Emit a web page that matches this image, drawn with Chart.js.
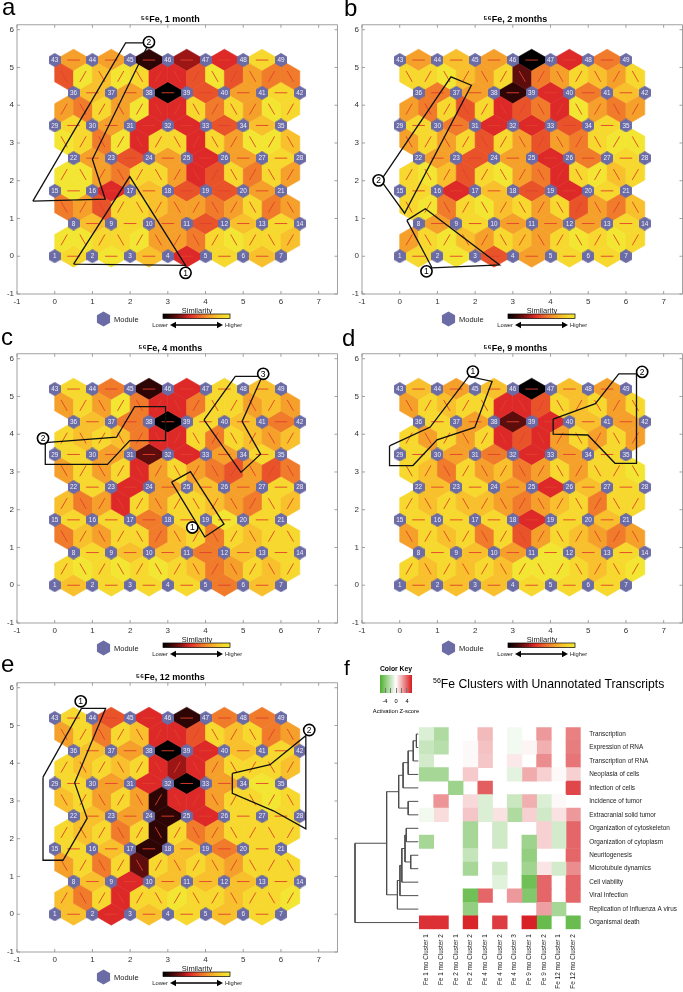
<!DOCTYPE html>
<html>
<head>
<meta charset="utf-8">
<title>56Fe SOM maps and IPA clusters</title>
<script src="https://cdn.jsdelivr.net/npm/chart.js@4.4.1/dist/chart.umd.min.js"></script>
<style>
  html, body { margin: 0; padding: 0; background: #fff; }
  #page { position: relative; width: 683px; height: 992px; overflow: hidden;
          font-family: "Liberation Sans", Arial, Helvetica, sans-serif; color: #000; }
  #page canvas { position: absolute; }
  .tag { position: absolute; font-size: 24px; line-height: 24px; }
  .txt { position: absolute; white-space: nowrap; }
</style>
</head>
<body>
<div id="page">
  <canvas id="somA" width="340" height="335" style="left:0;top:0"></canvas>
  <canvas id="somB" width="343" height="335" style="left:340px;top:0"></canvas>
  <canvas id="somC" width="340" height="335" style="left:0;top:329px"></canvas>
  <canvas id="somD" width="343" height="335" style="left:340px;top:329px"></canvas>
  <canvas id="somE" width="340" height="335" style="left:0;top:658px"></canvas>
  <canvas id="heat" width="343" height="302" style="left:340px;top:690px"></canvas>
  <canvas id="dendro" width="343" height="302" style="left:340px;top:690px"></canvas>

  <div class="tag" style="left:2px;top:-5px">a</div>
  <div class="tag" style="left:344px;top:-4px">b</div>
  <div class="tag" style="left:1px;top:325px">c</div>
  <div class="tag" style="left:342px;top:326px">d</div>
  <div class="tag" style="left:1px;top:652px">e</div>
  <div class="tag" style="left:344px;top:657px;font-size:21px;line-height:21px">f</div>

  <div class="txt" style="left:376px;top:665px;width:40px;text-align:center;font-size:6.8px;line-height:8px;font-weight:bold">Color Key</div>
  <div id="key" style="position:absolute;left:380px;top:675px;width:32px;height:18px"></div>
  <div class="txt" style="left:379px;top:698px;width:12px;text-align:center;font-size:5.7px;line-height:7px">-4</div>
  <div class="txt" style="left:390px;top:698px;width:12px;text-align:center;font-size:5.7px;line-height:7px">0</div>
  <div class="txt" style="left:401px;top:698px;width:12px;text-align:center;font-size:5.7px;line-height:7px">4</div>
  <div class="txt" style="left:366px;top:708px;width:60px;text-align:center;font-size:5.8px;line-height:7px">Activation Z-score</div>
  <div class="txt" style="left:433px;top:674px;font-size:12.2px;line-height:14px"><sup style="font-size:7px;vertical-align:5px">56</sup>Fe Clusters with Unannotated Transcripts</div>
</div>

<script>
// ── DATA ────────────────────────────────────────────────────────────

const xTicks = [-1, 0, 1, 2, 3, 4, 5, 6, 7];
const yTicks = [-1, 0, 1, 2, 3, 4, 5, 6];

// neighbour similarity, 0 = lowest (black) … 10 = highest (yellow)
// *_h : horizontal links in each module row (row 1-7 first)
// *_d : diagonal links between two rows, left to right
const a_h = [
  [9, 10, 8, 4, 9, 8],
  [8, 9, 7, 5, 8, 9],
  [10, 4, 8, 5, 5, 7],
  [7, 5, 7, 4, 7, 9],
  [9, 7, 4, 4, 5, 8],
  [8, 7, 0, 5, 7, 9],
  [7, 7, 1, 3, 4, 9]
];
const a_d = [
  [10, 10, 9, 9, 10, 7, 7, 6, 9, 10, 9, 9, 8],
  [6, 7, 5, 9, 9, 8, 7, 7, 6, 7, 9, 6, 7],
  [10, 10, 7, 6, 9, 9, 7, 4, 5, 9, 6, 9, 7],
  [10, 9, 6, 10, 4, 9, 9, 4, 9, 7, 10, 10, 8],
  [7, 6, 9, 7, 10, 4, 4, 9, 6, 9, 7, 10, 9],
  [5, 10, 8, 10, 9, 4, 4, 5, 10, 5, 7, 6, 6]
];
const b_h = [
  [9, 10, 5, 7, 9, 9],
  [7, 9, 7, 7, 7, 9],
  [9, 4, 8, 5, 4, 9],
  [7, 5, 7, 4, 6, 9],
  [9, 6, 4, 4, 5, 9],
  [6, 7, 1, 4, 6, 8],
  [7, 8, 7, 0, 4, 6]
];
const b_d = [
  [7, 9, 10, 8, 7, 9, 8, 7, 9, 10, 9, 10, 9],
  [9, 10, 6, 9, 10, 8, 9, 7, 9, 5, 7, 6, 8],
  [9, 10, 8, 5, 9, 10, 7, 6, 4, 9, 10, 8, 9],
  [7, 9, 7, 9, 5, 9, 7, 5, 7, 6, 9, 10, 10],
  [7, 6, 9, 5, 9, 4, 5, 6, 4, 10, 7, 6, 7],
  [9, 9, 10, 8, 7, 9, 2, 6, 7, 9, 8, 7, 9]
];
const c_h = [
  [8, 9, 9, 9, 6, 8],
  [9, 8, 8, 6, 8, 9],
  [9, 9, 6, 9, 10, 9],
  [9, 4, 7, 8, 7, 9],
  [9, 7, 2, 4, 7, 9],
  [8, 6, 0, 9, 8, 6],
  [9, 6, 1, 4, 9, 8]
];
const c_d = [
  [9, 10, 9, 10, 9, 10, 9, 8, 6, 7, 9, 8, 9],
  [6, 8, 7, 9, 9, 6, 8, 9, 6, 9, 8, 9, 9],
  [8, 6, 7, 4, 9, 7, 9, 9, 8, 7, 6, 9, 8],
  [7, 9, 7, 9, 4, 7, 9, 7, 6, 5, 7, 5, 6],
  [9, 8, 9, 8, 6, 4, 4, 9, 6, 9, 8, 7, 8],
  [7, 9, 7, 10, 6, 4, 4, 6, 9, 9, 7, 8, 7]
];
const d_h = [
  [8, 8, 8, 9, 9, 9],
  [9, 8, 7, 10, 8, 9],
  [9, 9, 9, 4, 9, 8],
  [8, 9, 7, 4, 8, 9],
  [9, 7, 6, 4, 7, 9],
  [9, 7, 2, 4, 8, 7],
  [8, 7, 8, 0, 8, 7]
];
const d_d = [
  [9, 8, 9, 8, 9, 8, 10, 10, 10, 9, 8, 9, 10],
  [7, 9, 8, 9, 6, 9, 5, 7, 9, 8, 7, 6, 7],
  [9, 8, 9, 8, 8, 7, 6, 7, 8, 9, 6, 9, 9],
  [9, 8, 6, 9, 7, 8, 6, 7, 9, 7, 9, 9, 10],
  [9, 7, 9, 7, 9, 4, 5, 4, 7, 9, 7, 9, 7],
  [7, 9, 8, 9, 9, 4, 4, 5, 9, 8, 9, 7, 9]
];
const e_h = [
  [8, 4, 8, 9, 8, 9],
  [8, 4, 8, 8, 8, 9],
  [9, 8, 1, 8, 6, 9],
  [8, 7, 1, 4, 9, 9],
  [9, 7, 4, 0, 7, 10],
  [8, 7, 0, 4, 8, 9],
  [9, 5, 4, 1, 6, 6]
];
const e_d = [
  [8, 6, 9, 4, 9, 9, 10, 9, 9, 8, 9, 9, 10],
  [7, 9, 6, 9, 2, 9, 8, 9, 8, 7, 9, 9, 9],
  [9, 8, 9, 6, 9, 1, 9, 6, 7, 9, 9, 9, 9],
  [8, 9, 7, 9, 7, 1, 4, 4, 7, 9, 9, 10, 9],
  [9, 8, 9, 8, 9, 4, 3, 4, 7, 9, 9, 9, 8],
  [7, 9, 6, 9, 8, 4, 4, 5, 9, 8, 9, 6, 7]
];

// cluster outlines and their numbered markers (map coordinates)
const a_loops = [
  [[0.50, -0.21], [1.99, 2.11], [3.47, -0.24]],
  [[-0.58, 1.46], [1.88, 5.65], [2.50, 5.65], [1.00, 2.57], [1.34, 1.51]]
];
const a_tags = [[3.47, -0.44, '1'], [2.50, 5.67, '2']];
const b_loops = [
  [[0.19, 0.95], [0.68, 1.26], [2.65, -0.23], [0.86, -0.31]],
  [[-0.50, 2.01], [1.36, 4.75], [1.90, 4.53], [0.13, 1.14]]
];
const b_tags = [[0.71, -0.40, '1'], [-0.56, 2.01, '2']];
const c_loops = [
  [[3.10, 2.73], [3.60, 3.01], [4.49, 1.62], [3.98, 1.28]],
  [[-0.25, 3.78], [1.64, 3.92], [2.12, 4.73], [2.94, 4.73], [2.94, 3.83], [1.99, 3.83], [1.40, 3.20], [-0.25, 3.20]],
  [[3.96, 4.38], [4.79, 5.53], [5.50, 5.53], [4.97, 4.34], [5.46, 3.47], [4.94, 2.99]]
];
const c_tags = [[3.65, 1.53, '1'], [-0.31, 3.89, '2'], [5.53, 5.60, '3']];
const d_loops = [
  [[-0.27, 3.69], [0.81, 4.19], [1.83, 5.53], [2.45, 5.40], [1.99, 4.18], [0.99, 3.85], [0.35, 3.17], [-0.27, 3.17]],
  [[4.07, 4.40], [5.19, 4.81], [5.81, 5.60], [6.28, 5.60], [6.28, 3.23], [5.71, 3.23], [4.99, 3.98], [4.07, 4.00]]
];
const d_tags = [[1.94, 5.66, '1'], [6.43, 5.65, '2']];
const e_loops = [
  [[-0.31, 3.63], [0.71, 5.45], [1.35, 5.45], [0.53, 3.48], [0.86, 2.54], [0.22, 1.43], [-0.31, 1.43]],
  [[4.71, 3.73], [5.71, 3.96], [6.66, 4.73], [6.66, 2.26], [5.80, 2.74], [4.71, 3.20]]
];
const e_tags = [[0.69, 5.64, '1'], [6.75, 4.88, '2']];

// panel f
const rowNames = [
  'Transcription', 'Expression of RNA', 'Transcription of RNA', 'Neoplasia of cells',
  'Infection of cells', 'Incidence of tumor', 'Extracranial solid tumor',
  'Organization of cytoskeleton', 'Organization of cytoplasm', 'Neuritogenesis',
  'Microtubule dynamics', 'Cell viability', 'Viral Infection',
  'Replication of Influenza A virus', 'Organismal death'
];
const colNames = [
  'Fe 1 mo Cluster 1', 'Fe 1 mo Cluster 2', 'Fe 2 mo Cluster 1', 'Fe 2 mo Cluster 2',
  'Fe 4 mo Cluster 1', 'Fe 4 mo Cluster 2', 'Fe 4 mo Cluster 3', 'Fe 9 mo Cluster 1',
  'Fe 9 mo Cluster 2', 'Fe 12 mo Cluster 1', 'Fe 12 mo Cluster 2'
];
const zScores = [
  [-1.2, -2.7, null, null, 1.8, null, -0.4, null, 2.7, null, 3.3],
  [-1.9, -2.4, null, 0.15, 1.6, null, -0.4, 0.3, 2.1, null, 3.4],
  [-1.5, null, null, 0.15, 1.5, null, 0.6, null, 3.0, null, 3.6],
  [-3.0, -3.0, null, 1.4, null, null, -0.9, 2.2, 1.2, 0.15, 1.2],
  [null, null, -3.3, null, 4.2, null, null, null, null, null, 4.8],
  [null, 2.8, null, 1.0, -1.2, null, -1.8, 2.1, -1.2, 0.15, null],
  [-0.45, 0.9, null, 1.5, -1.2, 0.75, -2.7, 1.2, -1.6, 0.75, 2.7],
  [null, null, null, -3.0, null, -1.6, null, null, 1.2, -1.5, 4.0],
  [-3.0, null, null, -3.0, null, -1.6, null, -3.3, 1.2, -1.5, 4.0],
  [null, null, null, -2.0, null, null, null, -3.6, null, null, 4.0],
  [null, null, null, -3.0, null, -1.6, null, -3.2, 0.7, -1.5, 3.0],
  [null, null, null, null, null, -1.0, null, -4.8, 4.0, null, 4.0],
  [null, null, null, -4.8, 4.0, null, 2.7, -4.2, 4.0, null, 4.0],
  [null, null, null, -3.6, null, null, null, null, 2.5, -3.0, null],
  [5.4, 5.4, null, 5.7, null, 5.1, null, 5.8, -5.1, null, -5.0]
];
// row dendrogram: [node, node, height]; new nodes numbered from 15
const linkage = [
  [0, 1, 0.3], [15, 2, 0.8], [16, 3, 1.6], [17, 4, 2.4], [5, 6, 1.6], [18, 19, 3.1],
  [7, 8, 1.9], [9, 10, 1.2], [21, 22, 2.1], [23, 11, 2.6], [24, 12, 2.9], [25, 13, 3.3],
  [20, 26, 5.0], [27, 14, 10]
];

// ── STYLE ───────────────────────────────────────────────────────────

const FONT = '"Liberation Sans", Arial, Helvetica, sans-serif';
Chart.defaults.font.family = FONT;
const ROW = Math.sqrt(3) / 2;
const HALF_W = 0.5 / Math.sqrt(3);
const SIM_COLORS = ['#000000', '#2e0505', '#5e0d0d', '#9c1616', '#dd2a28', '#e9532a',
                    '#f07b2b', '#f5a02b', '#f8c02c', '#f6d82e', '#f3e632'];
const MODULE_COLOR = '#6b6ba6';
const Z_MAX = 6;
const Z_LOW = [77, 175, 45], Z_HIGH = [215, 25, 30];
const NO_GRID = { display: false, drawTicks: false };

function hexPath(ctx, cx, cy, r) {
  ctx.beginPath();
  for (let i = 0; i < 6; i++) {
    const a = Math.PI / 180 * (60 * i - 90);
    const px = cx + r * Math.cos(a), py = cy + r * Math.sin(a);
    i ? ctx.lineTo(px, py) : ctx.moveTo(px, py);
  }
  ctx.closePath();
}

function hexImage(r) {
  const c = document.createElement('canvas');
  c.width = 12; c.height = 14;
  const g = c.getContext('2d');
  hexPath(g, 6, 7, r);
  g.fillStyle = MODULE_COLOR;
  g.fill();
  return c;
}
const MODULE_IMG = hexImage(6.9);

// ── SOM MAPS ────────────────────────────────────────────────────────

// midpoint, unit direction and value of every link between neighbouring modules
function edgeList(h, d) {
  const out = [];
  h.forEach((row, r) => row.forEach((v, j) => {
    out.push([(r % 2 ? 0.5 : 0) + j + 0.5, r * ROW, 1, 0, v]);
  }));
  d.forEach((row, g) => row.forEach((v, k) => {
    const rising = (g % 2) === (k % 2);
    out.push([0.25 + 0.5 * k, (g + 0.5) * ROW, rising ? 0.5 : -0.5, ROW, v]);
  }));
  return out;
}

function drawLegend(ctx, a) {
  const L = a.left, B = a.bottom;
  hexPath(ctx, L + 86.5, B + 25, 7.6);
  ctx.fillStyle = MODULE_COLOR;
  ctx.fill();

  ctx.fillStyle = '#222';
  ctx.font = `7.5px ${FONT}`;
  ctx.textBaseline = 'middle';
  ctx.textAlign = 'left';
  ctx.fillText('Module', L + 97, B + 25.5);
  ctx.textAlign = 'center';
  ctx.fillText('Similarity', L + 180, B + 16.5);

  const grad = ctx.createLinearGradient(L + 146, 0, L + 213, 0);
  SIM_COLORS.forEach((c, i) => grad.addColorStop(i / (SIM_COLORS.length - 1), c));
  ctx.fillStyle = grad;
  ctx.fillRect(L + 146, B + 20, 67, 4.5);
  ctx.strokeStyle = '#000';
  ctx.lineWidth = 0.7;
  ctx.strokeRect(L + 146, B + 20, 67, 4.5);

  // double arrow
  const y = B + 31, x1 = L + 153, x2 = L + 206;
  ctx.lineWidth = 1.6;
  ctx.beginPath(); ctx.moveTo(x1 + 4, y); ctx.lineTo(x2 - 4, y); ctx.stroke();
  ctx.fillStyle = '#000';
  ctx.beginPath(); ctx.moveTo(x1, y); ctx.lineTo(x1 + 6, y - 3.2); ctx.lineTo(x1 + 6, y + 3.2); ctx.fill();
  ctx.beginPath(); ctx.moveTo(x2, y); ctx.lineTo(x2 - 6, y - 3.2); ctx.lineTo(x2 - 6, y + 3.2); ctx.fill();

  ctx.font = `5.8px ${FONT}`;
  ctx.fillStyle = '#222';
  ctx.textAlign = 'right';
  ctx.fillText('Lower', L + 151, y + 0.5);
  ctx.textAlign = 'left';
  ctx.fillText('Higher', L + 208, y + 0.5);
}

function somPlugin(h, d) {
  const edges = edgeList(h, d);
  return {
    id: 'somMap',
    beforeDatasetsDraw(chart) {
      const { ctx, scales: { x, y } } = chart;
      const px = (a, b) => [x.getPixelForValue(a), y.getPixelForValue(b)];
      ctx.save();
      edges.forEach(([mx, my, dx, dy, v]) => {
        const pts = [
          px(mx + dx / 2, my + dy / 2), px(mx - dy * HALF_W, my + dx * HALF_W),
          px(mx - dx / 2, my - dy / 2), px(mx + dy * HALF_W, my - dx * HALF_W)
        ];
        ctx.beginPath();
        pts.forEach(([u, w], i) => (i ? ctx.lineTo(u, w) : ctx.moveTo(u, w)));
        ctx.closePath();
        ctx.fillStyle = SIM_COLORS[v];
        ctx.strokeStyle = SIM_COLORS[v];
        ctx.lineWidth = 0.6;
        ctx.fill();
        ctx.stroke();
      });
      ctx.strokeStyle = '#e2402c';
      ctx.lineWidth = 0.9;
      ctx.beginPath();
      edges.forEach(([mx, my, dx, dy]) => {
        const p = px(mx - dx / 6, my - dy / 6), q = px(mx + dx / 6, my + dy / 6);
        ctx.moveTo(p[0], p[1]);
        ctx.lineTo(q[0], q[1]);
      });
      ctx.stroke();
      ctx.restore();
    },
    afterDatasetDraw(chart, args) {
      if (args.index !== 0) return;
      const { ctx } = chart;
      const pts = chart.data.datasets[0].data;
      ctx.save();
      ctx.fillStyle = '#eeeef6';
      ctx.font = `6.4px ${FONT}`;
      ctx.textAlign = 'center';
      ctx.textBaseline = 'middle';
      args.meta.data.forEach((el, i) => ctx.fillText(String(pts[i].n), el.x, el.y + 0.4));
      ctx.restore();
    },
    afterDatasetsDraw(chart) {
      const { ctx } = chart;
      const idx = chart.data.datasets.length - 1;
      const pts = chart.data.datasets[idx].data;
      ctx.save();
      ctx.fillStyle = '#000';
      ctx.font = `8.5px ${FONT}`;
      ctx.textAlign = 'center';
      ctx.textBaseline = 'middle';
      chart.getDatasetMeta(idx).data.forEach((el, i) => ctx.fillText(pts[i].n, el.x, el.y + 0.5));
      ctx.restore();
    },
    afterDraw(chart) {
      const { ctx, chartArea: a, scales: { x, y } } = chart;
      ctx.save();
      ctx.strokeStyle = '#8a8a8a';
      ctx.lineWidth = 0.8;
      ctx.strokeRect(a.left, a.top, a.right - a.left, a.bottom - a.top);
      ctx.beginPath();
      x.ticks.forEach(t => {
        const p = x.getPixelForValue(t.value);
        ctx.moveTo(p, a.bottom); ctx.lineTo(p, a.bottom - 3);
        ctx.moveTo(p, a.top); ctx.lineTo(p, a.top + 3);
      });
      y.ticks.forEach(t => {
        const p = y.getPixelForValue(t.value);
        ctx.moveTo(a.left, p); ctx.lineTo(a.left + 3, p);
        ctx.moveTo(a.right, p); ctx.lineTo(a.right - 3, p);
      });
      ctx.stroke();
      drawLegend(ctx, a);
      ctx.restore();
    }
  };
}

function somChart(id, title, h, d, loops, tags, padLeft, padRight) {
  const modules = [];
  for (let r = 0; r < 7; r++)
    for (let c = 0; c < 7; c++)
      modules.push({ x: c + (r % 2 ? 0.5 : 0), y: r * ROW, n: r * 7 + c + 1 });

  const datasets = [{ data: modules, pointStyle: MODULE_IMG, pointRadius: 6, order: 3 }];
  loops.forEach(loop => datasets.push({
    data: loop.concat([loop[0]]).map(([x, y]) => ({ x, y })),
    showLine: true, borderColor: '#111', borderWidth: 1.3, pointRadius: 0, order: 2, clip: false
  }));
  datasets.push({
    data: tags.map(([x, y, n]) => ({ x, y, n })),
    pointStyle: 'circle', pointRadius: 5.6, backgroundColor: '#fff',
    borderColor: '#000', borderWidth: 1.6, order: 1, clip: false
  });

  const tickFont = { size: 8, family: FONT };
  return new Chart(document.getElementById(id), {
    type: 'scatter',
    data: { datasets },
    options: {
      responsive: false,
      animation: false,
      events: [],
      layout: { autoPadding: false, padding: { left: padLeft, right: padRight, top: 7, bottom: 25 } },
      plugins: {
        legend: { display: false },
        tooltip: { enabled: false },
        title: {
          display: true, text: title, color: '#000',
          font: { size: 9, weight: 'bold', family: FONT },
          padding: { top: 7, bottom: 0 }
        }
      },
      scales: {
        x: {
          type: 'linear', min: -1, max: 7.5,
          grid: NO_GRID, border: { display: false },
          afterBuildTicks: s => { s.ticks = xTicks.map(v => ({ value: v })); },
          ticks: { font: tickFont, color: '#333', padding: 3, maxRotation: 0, autoSkip: false },
          afterFit: s => { s.height = 16; }
        },
        y: {
          type: 'linear', min: -1, max: 6.13,
          grid: NO_GRID, border: { display: false },
          afterBuildTicks: s => { s.ticks = yTicks.map(v => ({ value: v })); },
          ticks: { font: tickFont, color: '#333', padding: 3, autoSkip: false },
          afterFit: s => { s.width = 14; }
        }
      }
    },
    plugins: [somPlugin(h, d)]
  });
}

somChart('somA', '⁵⁶Fe, 1 month', a_h, a_d, a_loops, a_tags, 3, 2.5);
somChart('somB', '⁵⁶Fe, 2 months', b_h, b_d, b_loops, b_tags, 8, 0.5);
somChart('somC', '⁵⁶Fe, 4 months', c_h, c_d, c_loops, c_tags, 3, 2.5);
somChart('somD', '⁵⁶Fe, 9 months', d_h, d_d, d_loops, d_tags, 8, 0.5);
somChart('somE', '⁵⁶Fe, 12 months', e_h, e_d, e_loops, e_tags, 3, 2.5);

// ── HEATMAP (panel f) ───────────────────────────────────────────────

function zColor(z) {
  if (z === null) return 'rgba(0,0,0,0)';
  const t = Math.min(1, Math.abs(z) / Z_MAX), end = z < 0 ? Z_LOW : Z_HIGH;
  const c = end.map(v => Math.round(255 + (v - 255) * t));
  return `rgb(${c.join(',')})`;
}

document.getElementById('key').style.background =
  `linear-gradient(to right, rgb(${Z_LOW.join(',')}), #fff, rgb(${Z_HIGH.join(',')}))`;
[-4, -2, 0, 2, 4].forEach(v => {
  const t = document.createElement('div');
  t.style.cssText = `position:absolute;left:${396 + v * 2.7 - 0.4}px;top:688px;width:0.8px;height:5px;background:#777`;
  document.getElementById('page').appendChild(t);
});

const labelFont = { size: 6.4, family: FONT };

new Chart(document.getElementById('heat'), {
  type: 'bar',
  data: {
    labels: rowNames,
    datasets: colNames.map((name, c) => ({
      label: name,
      data: zScores.map(row => (row[c] === null ? null : [c, c + 1])),
      backgroundColor: zScores.map(row => zColor(row[c])),
      borderWidth: 0,
      grouped: false,
      barPercentage: 1,
      categoryPercentage: 1
    }))
  },
  options: {
    indexAxis: 'y',
    responsive: false,
    animation: false,
    events: [],
    layout: { autoPadding: false, padding: { left: 79, right: 0, top: 37.3, bottom: 0 } },
    plugins: { legend: { display: false }, tooltip: { enabled: false } },
    scales: {
      y: {
        position: 'right',
        grid: NO_GRID, border: { display: false },
        ticks: { font: labelFont, color: '#222', padding: 8.5, autoSkip: false },
        afterFit: s => { s.width = 102.3; }
      },
      x: {
        type: 'linear', min: 0, max: 11,
        grid: NO_GRID, border: { display: false },
        afterBuildTicks: s => { s.ticks = colNames.map((n, i) => ({ value: i + 0.5 })); },
        ticks: {
          font: labelFont, color: '#222', padding: 5, autoSkip: false,
          minRotation: 90, maxRotation: 90,
          callback: (v, i) => colNames[i]
        },
        afterFit: s => { s.height = 62.7; }
      }
    }
  }
});

// row dendrogram, one elbow per merge
const dendroSets = [];
const nodeY = rowNames.map((_, i) => i);
const nodeH = rowNames.map(() => 0);
linkage.forEach(([a, b, h]) => {
  dendroSets.push({
    data: [
      { x: nodeH[a], y: nodeY[a] }, { x: h, y: nodeY[a] },
      { x: h, y: nodeY[b] }, { x: nodeH[b], y: nodeY[b] }
    ],
    showLine: true, borderColor: '#4d4d4d', borderWidth: 1, pointRadius: 0, clip: false
  });
  nodeY.push((nodeY[a] + nodeY[b]) / 2);
  nodeH.push(h);
});

new Chart(document.getElementById('dendro'), {
  type: 'scatter',
  data: { datasets: dendroSets },
  options: {
    responsive: false,
    animation: false,
    events: [],
    layout: { autoPadding: false, padding: { left: 15, right: 264.7, top: 37.3, bottom: 62.7 } },
    plugins: { legend: { display: false }, tooltip: { enabled: false } },
    scales: {
      x: { type: 'linear', min: 0, max: 10, reverse: true, display: false },
      y: { type: 'linear', min: -0.5, max: 14.5, reverse: true, display: false }
    }
  }
});
</script>
</body>
</html>
